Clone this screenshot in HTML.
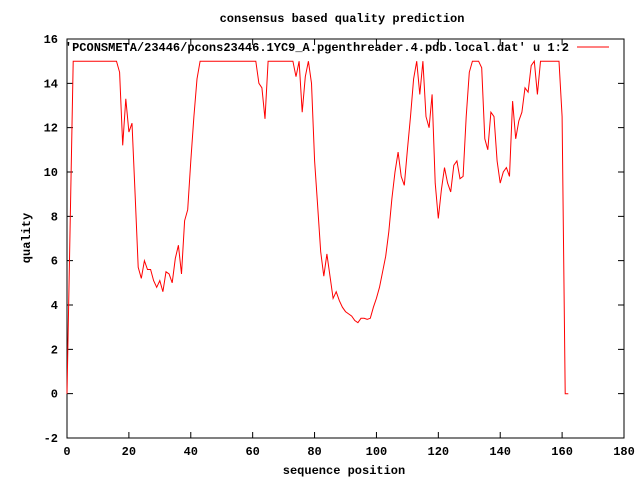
<!DOCTYPE html>
<html><head><meta charset="utf-8"><style>
body{margin:0;background:#fff}
svg text{font-family:"Liberation Mono","DejaVu Sans Mono",monospace;font-size:12px;font-weight:bold;fill:#000}
</style></head><body>
<svg id="chart" width="640" height="480" xmlns="http://www.w3.org/2000/svg">
<text x="342" y="22" text-anchor="middle">consensus based quality prediction</text>
<text x="344" y="474" text-anchor="middle">sequence position</text>
<text transform="translate(30,238) rotate(-90)" text-anchor="middle">quality</text>
<rect x="67" y="39" width="557" height="399" fill="none" stroke="#000" stroke-width="1"/>
<g id="axes"></g>
<text x="569" y="51" text-anchor="end">'PCONSMETA/23446/pcons23446.1YC9_A.pgenthreader.4.pdb.local.dat' u 1:2</text>
<line x1="577" y1="47" x2="609" y2="47" stroke="#f00" stroke-width="1"/>
<path id="series" fill="none" stroke="#f00" stroke-width="1"/>
</svg>
<script>
const xTicks=[0,20,40,60,80,100,120,140,160,180];
const yTicks=[-2,0,2,4,6,8,10,12,14,16];
const quality=[0,7.5,15,15,15,15,15,15,15,15,15,15,15,15,15,15,15,14.5,11.2,13.3,11.8,12.2,9,5.7,5.2,6,5.6,5.6,5.1,4.8,5.1,4.6,5.5,5.4,5,6.1,6.7,5.4,7.8,8.3,10.5,12.5,14.2,15,15,15,15,15,15,15,15,15,15,15,15,15,15,15,15,15,15,15,14,13.8,12.4,15,15,15,15,15,15,15,15,15,14.3,15,12.7,14.3,15,14,10.5,8.5,6.4,5.3,6.3,5.3,4.3,4.6,4.2,3.9,3.7,3.6,3.5,3.3,3.2,3.4,3.4,3.35,3.4,3.9,4.3,4.8,5.5,6.2,7.3,8.8,10,10.9,9.8,9.4,11,12.5,14.2,15,13.5,15,12.5,12,13.5,9.5,7.9,9.2,10.2,9.5,9.1,10.3,10.5,9.7,9.8,12.5,14.5,15,15,15,14.7,11.5,11,12.7,12.5,10.5,9.5,10,10.2,9.8,13.2,11.5,12.3,12.7,13.8,13.6,14.8,15,13.5,15,15,15,15,15,15,15,12.5,0,0];
const X0=67,X1=624,Y0=438,Y1=39;
const sx=v=>X0+(v-0)/(180-0)*(X1-X0);
const sy=v=>Y0-(v+2)/(16+2)*(Y0-Y1);
const NS="http://www.w3.org/2000/svg";
const g=document.getElementById('axes');
function mk(t,a){const e=document.createElementNS(NS,t);for(const k in a)e.setAttribute(k,a[k]);g.appendChild(e);return e;}
xTicks.forEach(v=>{const x=sx(v);
 const l=mk('path',{d:`M${x},${Y0}v-6M${x},${Y1}v6`,stroke:'#000'});
 
 
 const t=mk('text',{x:x,y:Y0+17,'text-anchor':'middle'});t.textContent=v;
 
 
});
yTicks.forEach(v=>{const y=sy(v);
 const l=mk('path',{d:`M${X0},${y}h6M${X1},${y}h-6`,stroke:'#000'});
 
 
 const t=mk('text',{x:X0-9,y:y+4,'text-anchor':'end'});t.textContent=v;
 
 
});
document.getElementById('series').setAttribute('d',quality.map((v,i)=>(i?'L':'M')+sx(i).toFixed(1)+','+sy(v).toFixed(1)).join(''));
</script>
</body></html>
